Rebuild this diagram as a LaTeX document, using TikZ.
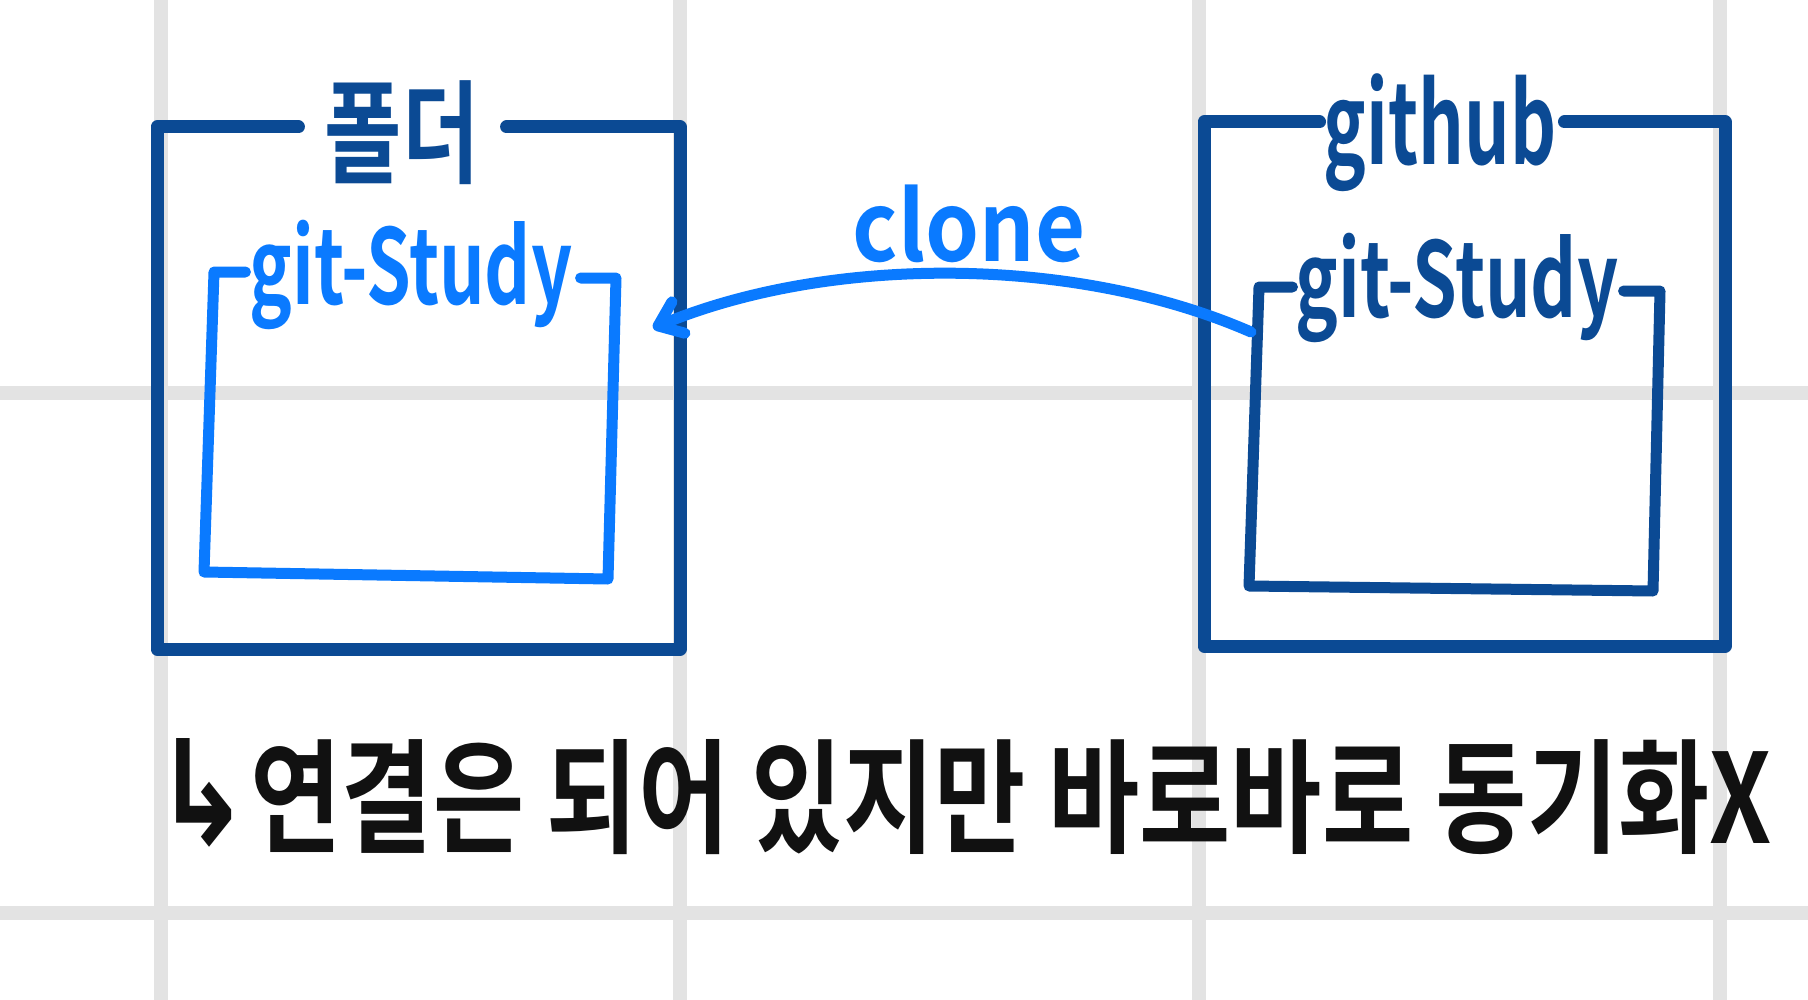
\documentclass[tikz,border=0pt]{standalone}
\usepackage{fontspec}
\setmainfont{Noto Sans CJK KR}[BoldFont={Noto Sans CJK KR Bold}]
\newfontfamily\symfont{DejaVu Sans}
\usetikzlibrary{arrows.meta}

\definecolor{darkblue}{HTML}{0B4A94}
\definecolor{brightblue}{HTML}{0A7AFF}
\definecolor{gridgray}{HTML}{E3E3E3}
\definecolor{inkblack}{HTML}{111111}

\tikzset{
	gridline/.style={gridgray, line width=7pt},
	outerbox/.style={draw=darkblue, line width=6.5pt, line join=round, line cap=round},
	innerbox/.style={line width=5.5pt, line join=round, line cap=round},
	boxtitle/.style={font=\bfseries\fontsize{56}{56}\selectfont, inner sep=0pt},
	clonearrow/.style={draw=brightblue, line width=5.5pt, line cap=round, -{Straight Barb[length=11pt,width=17pt,round]}},
}

\begin{document}
\begin{tikzpicture}[x=0.5pt,y=-0.5pt]
	\useasboundingbox (0,0) rectangle (1808,1000);
	\fill[white] (0,0) rectangle (1808,1000);
	%grid
		\foreach \gx in {161,680,1199,1720} \draw[gridline] (\gx,0) -- (\gx,1000);
		\foreach \gy in {393,913} \draw[gridline] (0,\gy) -- (1808,\gy);
	%titles
		\node[boxtitle, darkblue, xscale=0.75] (folder) at (402,133) {폴더};
		\node[boxtitle, darkblue, xscale=0.64] (github) at (1440,133) {github};
		\node[boxtitle, brightblue, xscale=0.69, font=\bfseries\fontsize{52}{52}\selectfont] (localrepo) at (411,275) {git-Study};
		\node[boxtitle, darkblue, xscale=0.69, font=\bfseries\fontsize{52}{52}\selectfont] (remoterepo) at (1457,288) {git-Study};
	%folder box
		\draw[outerbox] ([shift={(-26,-6)}]folder.west) -- (157,127) -- (157,649) -- (680,649) -- (680,127) -- ([shift={(27,-6)}]folder.east);
	%github box
		\draw[outerbox] ([shift={(-4,-11)}]github.west) -- (1204,122) -- (1204,646) -- (1725,646) -- (1725,122) -- ([shift={(8,-11)}]github.east);
	%git-Study boxes
		\draw[innerbox, brightblue] ([shift={(-4,-3)}]localrepo.west) -- (214,272) -- (204,572) -- (608,579) -- (616,278) -- ([shift={(8,3)}]localrepo.east);
		\draw[innerbox, darkblue] ([shift={(-3,-1)}]remoterepo.west) -- (1259,287) -- (1249,586) -- (1653,591) -- (1660,291) -- ([shift={(5,3)}]remoterepo.east);
	%clone arrow
		\coordinate (clonefrom) at (1251,332);
		\coordinate (cloneto) at (653,328);
		\draw[clonearrow] (clonefrom) .. controls (1075,255) and (830,255) .. (cloneto);
		\node[brightblue, inner sep=0pt, xscale=0.9, font=\bfseries\fontsize{48}{48}\selectfont] (clonelabel) at (969,224) {clone};
	%note
		\node[inkblack, inner sep=0pt, xscale=0.8, font=\bfseries\fontsize{62}{62}\selectfont] (note) at (963,797) {{\symfont\fontsize{72}{72}\selectfont ↳}연결은 되어 있지만 바로바로 동기화X};
\end{tikzpicture}
\end{document}
